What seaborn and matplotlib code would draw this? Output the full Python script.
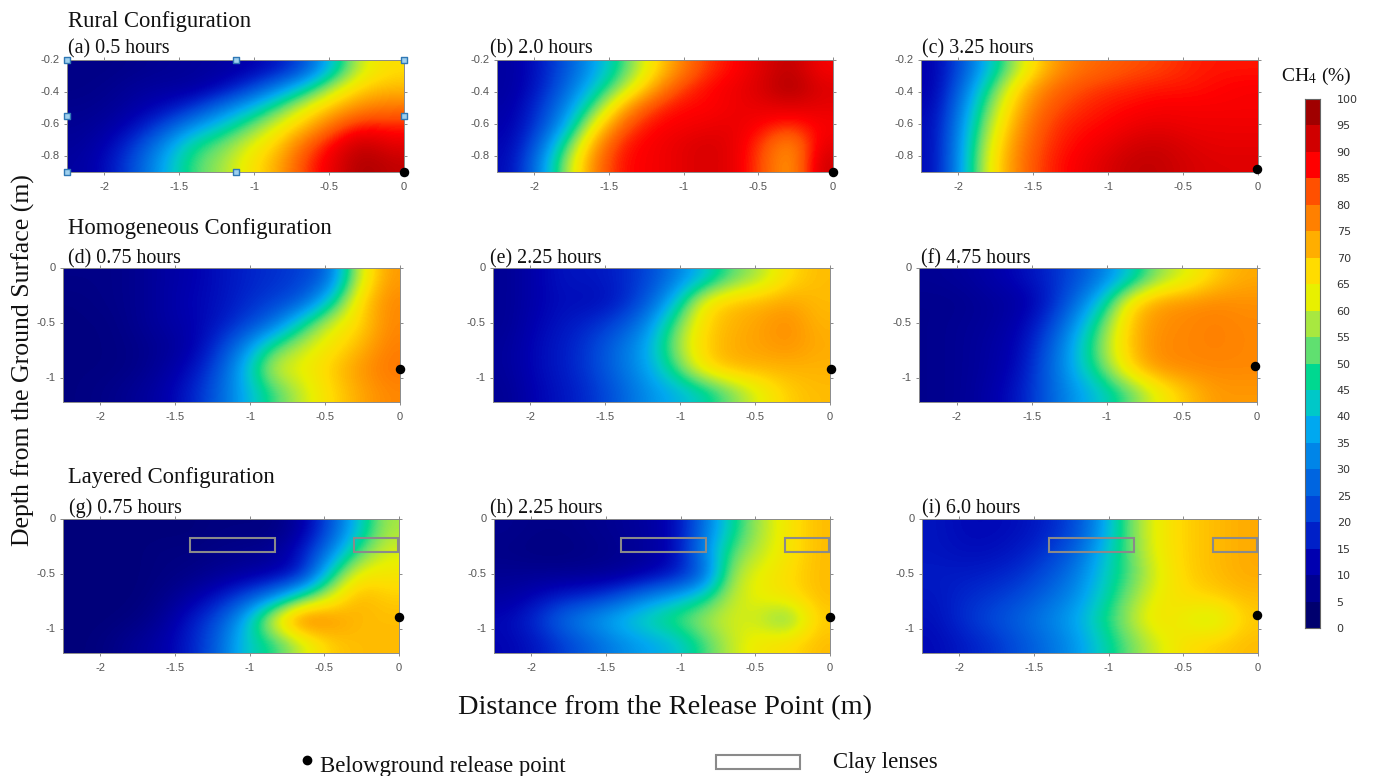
import matplotlib
matplotlib.use("Agg")
import matplotlib.pyplot as plt
from matplotlib.colors import LinearSegmentedColormap, ListedColormap
from matplotlib.patches import Rectangle
import seaborn as sns
import numpy as np

W, H = 1373, 776

band_colors = ['#00006e', '#000090', '#0000b0', '#0020c8', '#0045d8', '#0065e0', '#0085e8',
               '#00a8f0', '#00c8c8', '#00d890', '#60e070', '#a8e840', '#e8f000', '#ffdc00',
               '#ffae00', '#ff8000', '#ff5000', '#ff0000', '#d00000', '#a00000']
band_mids = [2.5 + 5 * i for i in range(20)]
cbar_labels = [str(5 * i) for i in range(21)]

titulos = ['(a) 0.5 hours', '(b) 2.0 hours', '(c) 3.25 hours',
           '(d) 0.75 hours', '(e) 2.25 hours', '(f) 4.75 hours',
           '(g) 0.75 hours', '(h) 2.25 hours', '(i) 6.0 hours']

x_ticks = [-2, -1.5, -1, -0.5, 0]
x_labels = ['-2', '-1.5', '-1', '-0.5', '0']
y_ticks_rural = [-0.2, -0.4, -0.6, -0.8]
y_labels_rural = ['-0.2', '-0.4', '-0.6', '-0.8']
y_ticks_solo = [0, -0.5, -1]
y_labels_solo = ['0', '-0.5', '-1']

# rows go from the top of the panel to the bottom, columns from -2.25 m to 0 m
painel_a = [[4, 4, 5, 6, 7, 8, 10, 14, 23, 42, 62, 68],
            [4, 5, 7, 8, 8, 12, 20, 31, 44, 60, 70, 72],
            [5, 6, 9, 12, 18, 28, 38, 50, 63, 72, 78, 80],
            [6, 8, 13, 22, 33, 42, 52, 63, 72, 82, 88, 87],
            [7, 11, 20, 33, 47, 53, 62, 70, 82, 90, 96, 92],
            [8, 13, 24, 38, 51, 57, 66, 74, 86, 92, 99, 96]]
painel_b = [[8, 14, 24, 36, 50, 66, 78, 86, 89, 93, 97, 90],
            [8, 15, 27, 42, 58, 74, 85, 89, 91, 94, 99, 93],
            [9, 18, 32, 52, 74, 85, 89, 89, 91, 92, 93, 92],
            [10, 20, 38, 66, 83, 89, 90, 91, 92, 89, 86, 90],
            [11, 25, 50, 76, 88, 90, 92, 94, 92, 85, 76, 92],
            [12, 30, 58, 80, 89, 90, 92, 94, 92, 84, 74, 95]]
painel_c = [[10, 24, 42, 60, 74, 80, 82, 84, 85, 87, 88, 88],
            [10, 28, 50, 70, 80, 84, 86, 87, 88, 88, 89, 90],
            [11, 32, 56, 74, 83, 86, 88, 89, 90, 90, 90, 90],
            [12, 35, 60, 77, 85, 88, 89, 91, 92, 91, 91, 91],
            [12, 37, 64, 79, 86, 89, 91, 94, 95, 93, 92, 92],
            [12, 38, 66, 80, 87, 90, 93, 96, 96, 94, 93, 93]]
painel_d = [[4, 4, 5, 8, 10, 13, 16, 18, 20, 26, 60, 76],
            [3, 4, 5, 8, 11, 13, 17, 20, 24, 42, 68, 78],
            [3, 3, 5, 8, 10, 14, 20, 28, 46, 62, 68, 78],
            [3, 3, 4, 6, 9, 18, 32, 50, 60, 66, 72, 79],
            [3, 3, 4, 7, 12, 22, 40, 62, 64, 70, 76, 80],
            [3, 4, 6, 9, 15, 25, 38, 50, 60, 68, 74, 78]]
painel_e = [[6, 10, 14, 14, 16, 21, 30, 40, 52, 58, 68, 72],
            [6, 10, 13, 12, 15, 24, 40, 66, 72, 73, 75, 72],
            [6, 11, 14, 17, 22, 32, 52, 69, 73, 75, 78, 73],
            [7, 12, 15, 20, 28, 37, 56, 70, 74, 75, 77, 74],
            [7, 12, 15, 20, 28, 36, 50, 68, 73, 73, 73, 73],
            [6, 11, 14, 18, 25, 33, 38, 44, 54, 63, 70, 72]]
painel_f = [[6, 7, 9, 12, 16, 22, 30, 42, 56, 62, 70, 74],
            [5, 5, 7, 8, 14, 26, 42, 68, 76, 77, 78, 77],
            [5, 6, 7, 10, 18, 33, 52, 72, 77, 78, 79, 78],
            [5, 6, 8, 11, 22, 38, 56, 72, 78, 78, 79, 78],
            [5, 6, 8, 12, 24, 38, 52, 70, 77, 78, 78, 78],
            [5, 6, 9, 14, 24, 34, 42, 52, 64, 71, 76, 76]]
painel_g = [[2, 2, 2, 2, 2, 3, 3, 3, 8, 22, 40, 58],
            [2, 2, 2, 3, 3, 4, 5, 6, 14, 30, 50, 62],
            [2, 2, 2, 3, 4, 6, 8, 10, 14, 44, 66, 66],
            [2, 2, 2, 4, 8, 14, 22, 32, 50, 62, 74, 70],
            [2, 2, 3, 6, 14, 22, 38, 66, 84, 78, 72, 72],
            [2, 3, 6, 9, 15, 25, 42, 48, 60, 70, 72, 72]]
painel_h = [[5, 4, 4, 5, 6, 8, 12, 28, 46, 58, 66, 72],
            [4, 3, 3, 4, 5, 7, 12, 32, 52, 60, 66, 72],
            [6, 6, 6, 6, 7, 10, 14, 24, 58, 64, 68, 72],
            [8, 12, 16, 18, 24, 32, 38, 46, 60, 64, 67, 72],
            [12, 18, 28, 34, 40, 46, 52, 58, 62, 60, 50, 70],
            [11, 14, 20, 26, 32, 36, 40, 50, 60, 66, 68, 72]]
painel_i = [[14, 12, 12, 13, 16, 22, 36, 55, 65, 70, 72, 74],
            [14, 13, 13, 15, 19, 26, 40, 54, 65, 70, 72, 74],
            [15, 15, 16, 18, 23, 30, 42, 52, 63, 70, 72, 74],
            [14, 17, 19, 22, 27, 33, 44, 56, 65, 68, 70, 72],
            [13, 18, 22, 26, 31, 37, 48, 59, 68, 62, 58, 70],
            [12, 15, 18, 23, 28, 34, 44, 54, 62, 68, 70, 72]]
paineis = [painel_a, painel_b, painel_c, painel_d, painel_e, painel_f, painel_g, painel_h, painel_i]

fonte_x = [0, 0, -0.005, 0, 0.005, -0.01, 0, 0, -0.01]
fonte_y = [-0.9, -0.9, -0.88, -0.92, -0.92, -0.89, -0.89, -0.89, -0.87]
lente_x = [(-1.4, -0.83), (-0.3, -0.01)]
lente_y = (-0.17, -0.3)
pontos_x = [-2.25, -1.125, 0, -2.25, 0, -2.25, -1.125, 0]
pontos_y = [-0.2, -0.2, -0.2, -0.55, -0.55, -0.9, -0.9, -0.9]

# left, right, top, bottom of each panel in pixels
caixas = [(67, 404, 60, 172), (497, 833, 60, 172), (921, 1258, 60, 172),
          (63, 400, 268, 402), (493, 830, 268, 402), (919, 1257, 268, 402),
          (63, 399, 519, 653), (494, 830, 519, 653), (922, 1258, 519, 653)]
pos_titulo = [(68, 47), (490, 47), (922, 47), (68, 257), (490, 257), (921, 257),
              (69, 507), (490, 507), (922, 507)]

sns.set_theme(style='white')
plt.rcParams['font.family'] = ['Liberation Serif', 'DejaVu Serif']
plt.rcParams['mathtext.fontset'] = 'stix'

cmap_continuo = LinearSegmentedColormap.from_list('ch4', band_colors, N=256)
fig = plt.figure(figsize=(W / 100, H / 100), dpi=100)


def caixa_ax(esq, dir, topo, base):
    return fig.add_axes([esq / W, 1 - base / H, (dir - esq) / W, (base - topo) / H])


def texto(x, y, s, size, **kw):
    fig.text(x / W, 1 - y / H, s, fontsize=size, color='#111111', **kw)


for i, dados in enumerate(paineis):
    ax = caixa_ax(*caixas[i])
    dados = np.array(dados, dtype=float)
    ny, nx = dados.shape
    y_top, y_bot = (-0.2, -0.9) if i < 3 else (0, -1.22)
    px = lambda v: (np.asarray(v) + 2.25) / 2.25 * nx
    py = lambda v: (y_top - np.asarray(v)) / (y_top - y_bot) * ny

    sns.heatmap(dados, ax=ax, cmap=cmap_continuo, vmin=0, vmax=100, cbar=False)
    ax.imshow(dados, extent=(0, nx, ny, 0), cmap=cmap_continuo, vmin=0, vmax=100,
              interpolation='bicubic', aspect='auto', zorder=2)
    ax.set_xlim(0, nx)
    ax.set_ylim(ny, 0)

    ax.set_xticks(px(x_ticks))
    ax.set_xticklabels(x_labels, rotation=0)
    if i < 3:
        ax.set_yticks(py(y_ticks_rural))
        ax.set_yticklabels(y_labels_rural, rotation=0)
    else:
        ax.set_yticks(py(y_ticks_solo))
        ax.set_yticklabels(y_labels_solo, rotation=0)
    ax.tick_params(top=True, right=True, bottom=True, left=True, length=2.5, width=0.6,
                   color='#777777', labelcolor='#555555', labelsize=8)
    ax.tick_params(axis='x', pad=5)
    ax.tick_params(axis='y', pad=3)
    for lb in ax.get_xticklabels() + ax.get_yticklabels():
        lb.set_family(['Liberation Sans'])
    for sp in ax.spines.values():
        sp.set_visible(True)
        sp.set_color('#8a8a8a')
        sp.set_linewidth(0.7)
        sp.set_zorder(3)

    if i == 0:
        ax.scatter(px(pontos_x), py(pontos_y), marker='s', s=14, facecolor='#9fd0ee',
                   edgecolor='#2f78b5', linewidth=1, clip_on=False, zorder=4)
    ax.scatter(px(fonte_x[i]), py(fonte_y[i]), s=34, color='black', clip_on=False, zorder=5)

    if i >= 6:
        for x0, x1 in lente_x:
            ax.add_patch(Rectangle((px(x0), py(lente_y[0])), px(x1) - px(x0),
                                   py(lente_y[1]) - py(lente_y[0]), fill=False,
                                   edgecolor='#8a8a8a', linewidth=1.5, zorder=4))

    texto(pos_titulo[i][0], pos_titulo[i][1] + 6, titulos[i], 14.4, ha='left', va='baseline')

# colour scale
cax = caixa_ax(1305, 1320, 99, 628)
sns.heatmap(np.array(band_mids[::-1]).reshape(-1, 1), ax=cax, cmap=ListedColormap(band_colors),
            vmin=0, vmax=100, cbar=False, xticklabels=False, linewidths=0)
cax.set_yticks(np.arange(21))
cax.set_yticklabels(cbar_labels[::-1], rotation=0)
cax.yaxis.tick_right()
cax.tick_params(right=False, left=False, labelsize=8, labelcolor='#333333', pad=6)
for lb in cax.get_yticklabels():
    lb.set_family(['DejaVu Sans'])
for sp in cax.spines.values():
    sp.set_visible(True)
    sp.set_color('#666666')
    sp.set_linewidth(0.8)

texto(68, 27, 'Rural Configuration', 16.3, ha='left', va='baseline')
texto(68, 234, 'Homogeneous Configuration', 16.3, ha='left', va='baseline')
texto(68, 483, 'Layered Configuration', 16.3, ha='left', va='baseline')
texto(1281, 81, 'CH$_4$ (%)', 14, ha='left', va='baseline')
texto(23, 360, 'Depth from the Ground Surface (m)', 18.5, rotation=90, ha='center', va='center')
texto(665, 708, 'Distance from the Release Point (m)', 20.4, ha='center', va='center')
texto(320, 772, 'Belowground release point', 16.4, ha='left', va='baseline')
texto(833, 768, 'Clay lenses', 16.4, ha='left', va='baseline')

fig.add_artist(plt.Line2D([307 / W], [1 - 760 / H], marker='o', markersize=6, color='black'))
fig.add_artist(Rectangle((716 / W, 1 - 769 / H), 84 / W, 14 / H, fill=False,
                         edgecolor='#8a8a8a', linewidth=1.5, transform=fig.transFigure))

fig.savefig('out.png', dpi=100)
